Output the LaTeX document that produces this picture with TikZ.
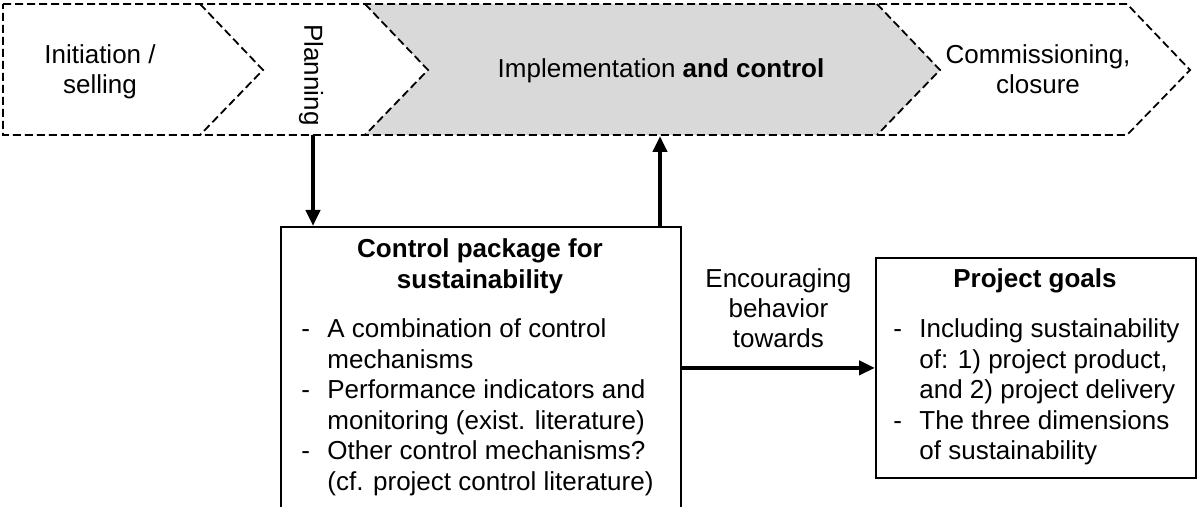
\documentclass[tikz,border=0pt]{standalone}
\usepackage{fontspec}
\setmainfont{Liberation Sans}
\usetikzlibrary{positioning, arrows.meta}
\tikzset{
  >={Triangle[length=8pt,width=7pt]},
  every node/.style={font=\fontsize{13}{15}\selectfont},
  phase/.style={draw, dash pattern=on 4pt off 2pt, line width=0.9pt},
  phasetext/.style={align=center, inner sep=0pt},
  box/.style={draw, line width=0.9pt, anchor=north west, inner sep=0pt},
  boxhead/.style={align=center, inner sep=0pt, font=\fontsize{13}{15.5}\selectfont\bfseries},
  boxlist/.style={anchor=north west, inner sep=0pt},
  flow/.style={->, line width=2pt},
}
\newcommand{\dashlist}[1]{{\fontsize{13}{15.3}\selectfont
  \begin{tabular}{@{}p{13pt}@{}l@{}}#1\end{tabular}}}

\begin{document}
\begin{tikzpicture}[x=0.5pt,y=-0.5pt]
  \clip (0,0) rectangle (1197,507);

  \fill[gray!30] (365,4) -- (877,4) -- (940,70) -- (877,135) -- (365,135) -- (428,70) -- cycle;
  \draw[phase] (3,4) -- (1127,4) -- (1190,70) -- (1127,135) -- (3,135) -- cycle;
  \foreach \x in {200,365,877}
    \draw[phase] (\x,4) -- ++(63,66) -- ++(-63,65);

  \node[phasetext] (init) at (100,71.5) {Initiation /\\selling};
  \node[phasetext, rotate=-90] (plan) at (311,75) {Planning};
  \node[phasetext] (impl) at (661,71) {Implementation \textbf{and control}};
  \node[phasetext] (close) at (1038,69) {Commissioning,\\closure};

  \coordinate (planout) at (313,135);
  \coordinate (implin) at (660,136);

  \node[box, minimum width=200pt, minimum height=150pt] (ctrl) at (280,226) {};
  \node[boxhead] (ctrlhead) at (480,266) {Control package for\\sustainability};
  \node[boxlist] (ctrllist) at (301,315.6) {\dashlist{
    - & A combination of control\\
      & mechanisms\\
    - & Performance indicators and\\
      & monitoring (exist. literature)\\
    - & Other control mechanisms?\\
      & (cf. project control literature)}};

  \node[box, minimum width=160pt, minimum height=110pt] (goals) at (875,257) {};
  \node[boxhead] (goalshead) at (1035,281) {Project goals};
  \node[boxlist] (goalslist) at (893,315.6) {\dashlist{
    - & Including sustainability\\
      & of: 1) project product,\\
      & and 2) project delivery\\
    - & The three dimensions\\
      & of sustainability}};

  \draw[flow] (planout) -- (planout |- ctrl.north);
  \draw[flow] (implin |- ctrl.north) -- (implin);
  \draw[flow] (ctrl.east |- goals.west) -- node[above=9pt, align=center, inner sep=0pt] (enc)
    {Encouraging\\behavior\\towards} (goals.west);
\end{tikzpicture}
\end{document}
